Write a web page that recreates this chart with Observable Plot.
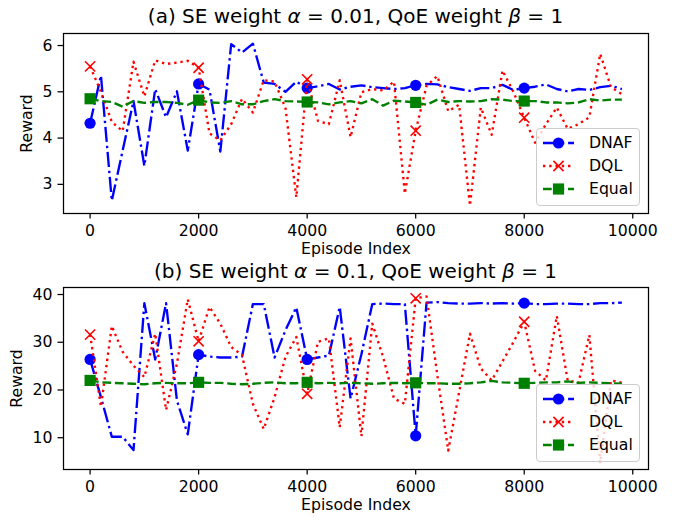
<!DOCTYPE html>
<html>
<head>
<meta charset="utf-8">
<script src="https://cdn.jsdelivr.net/npm/d3@7"></script>
<script src="https://cdn.jsdelivr.net/npm/@observablehq/plot@0.6"></script>
<style>
  html, body { margin: 0; padding: 0; background: #fff; }
  body { font-family: "DejaVu Sans", sans-serif; }
  #wrap { position: relative; width: 677px; height: 520px; overflow: hidden; }
  .panel { position: absolute; left: 0; }
  .title { position: absolute; left: 63px; width: 585px; text-align: center; font-size: 20px;
           line-height: 1; color: #000; white-space: nowrap; }
  .legend { position: absolute; left: 536px; width: 104px; box-sizing: border-box;
            border: 1px solid #cccccc; border-radius: 4px; background: rgba(255,255,255,0.8);
            padding: 2px 0 4px 0; font-size: 15.7px; color: #000; }
  .legend .row { height: 23.3px; display: flex; align-items: center; }
  .legend svg { margin-left: 6px; flex: none; }
  .legend span { margin-left: 15px; line-height: 1; }
</style>
</head>
<body>
<div id="wrap"></div>
<script>
// ---------------- data ----------------
const episodes = [0,200,400,600,800,1000,1200,1400,1600,1800,
  2000,2200,2400,2600,2800,3000,3200,3400,3600,3800,
  4000,4200,4400,4600,4800,5000,5200,5400,5600,5800,
  6000,6200,6400,6600,6800,7000,7200,7400,7600,7800,
  8000,8200,8400,8600,8800,9000,9200,9400,9600,9800];

const seriesNames = ["DNAF", "DQL", "Equal"];
const markerEpisodes = [0, 2000, 4000, 6000, 8000];

// (a) alpha = 0.01
const aDNAF = [4.32,5.35,2.65,3.73,4.80,3.40,5.06,4.45,5.01,3.73,
  5.17,5.05,3.71,6.03,5.85,6.04,5.20,5.17,5.00,5.22,
  5.08,5.12,5.17,5.05,5.11,5.14,5.10,5.08,5.06,5.08,
  5.14,5.17,5.16,5.10,5.06,5.02,5.08,5.08,5.15,5.04,
  5.08,5.11,5.16,5.06,5.01,5.06,5.04,5.10,5.13,5.06];
const aDQL = [5.55,5.00,4.35,4.15,5.65,4.90,5.68,5.60,5.63,5.67,
  5.52,4.10,3.95,4.30,4.85,4.55,5.25,5.22,4.65,2.72,
  5.27,4.37,4.30,5.25,4.02,4.99,5.06,5.03,5.22,2.80,
  4.16,5.13,5.34,4.58,4.72,2.54,4.66,4.07,5.46,5.00,
  4.44,3.90,4.30,4.66,4.20,4.30,4.45,5.82,5.10,4.95];
const aEqual = [4.85,4.80,4.78,4.68,4.80,4.76,4.78,4.78,4.76,4.72,
  4.82,4.77,4.76,4.80,4.73,4.73,4.80,4.84,4.80,4.79,
  4.78,4.77,4.73,4.77,4.80,4.75,4.84,4.70,4.81,4.79,
  4.77,4.72,4.83,4.78,4.80,4.79,4.80,4.84,4.83,4.80,
  4.80,4.80,4.77,4.77,4.75,4.77,4.84,4.81,4.83,4.83];

// (b) alpha = 0.1
const bDNAF = [26.4,18.5,10.2,10.2,7.4,38.2,26.4,38.2,17.8,10.7,
  27.4,27.0,26.8,26.8,27.0,38.0,38.0,26.8,32.5,37.3,
  26.4,26.8,27.2,37.4,18.2,27.5,38.0,38.1,38.0,38.0,
  10.4,38.3,38.4,38.2,38.1,38.1,38.2,38.1,38.2,38.1,
  38.2,38.0,38.0,38.1,38.1,38.0,38.0,38.2,38.2,38.3];
const bDQL = [31.6,16.5,33.4,28.0,25.1,22.7,31.8,15.8,25.5,39.0,
  30.2,37.4,33.9,29.0,27.3,17.1,11.8,18.5,26.9,31.1,
  19.2,30.1,30.8,12.2,30.8,10.3,33.9,26.9,18.2,17.1,
  39.2,39.6,23.0,7.3,19.5,31.8,24.5,22.0,26.0,30.0,
  34.3,24.0,22.0,35.5,22.0,21.5,31.5,4.8,22.0,21.5];
const bEqual = [22.0,21.6,21.5,21.4,21.3,21.2,21.4,21.5,21.4,21.4,
  21.6,21.5,21.5,21.3,21.2,21.3,21.5,21.6,21.4,21.4,
  21.6,21.4,21.5,21.4,21.5,21.4,21.3,21.4,21.5,21.4,
  21.5,21.4,21.4,21.3,21.3,21.4,21.6,21.9,21.6,21.5,
  21.4,21.5,21.6,21.6,21.8,21.5,21.6,21.5,21.4,21.3];

const xTicks = [0, 2000, 4000, 6000, 8000, 10000];
const yTicksA = [3, 4, 5, 6];
const yTicksB = [10, 20, 30, 40];

// ---------------- styles ----------------
const LW = 2.36;
const styles = {
  DNAF:  {color: "#0000ff", dash: "15.1 3.8 2.4 3.8", symbol: "circle", r: 5.6, filled: true},
  DQL:   {color: "#ff0000", dash: "2.36 3.9",         symbol: "times",  r: 4.7, filled: false},
  Equal: {color: "#008000", dash: "8.7 3.8",          symbol: "square", r: 6.3, filled: true}
};

function buildRows(lists) {
  const rows = [];
  seriesNames.forEach((s, i) => lists[i].forEach((v, j) => rows.push({series: s, ep: episodes[j], v})));
  return rows;
}

function makePlot({lists, yDomain, yTicks, height, marginTop, marginBottom, yLabelOffset}) {
  const rows = buildRows(lists);
  const marks = [];
  for (const s of seriesNames) {
    const st = styles[s];
    const data = rows.filter(d => d.series === s);
    marks.push(Plot.line(data, {x: "ep", y: "v", stroke: st.color, strokeWidth: LW,
      strokeDasharray: st.dash, strokeLinejoin: "round", strokeLinecap: "butt"}));
    const mdata = data.filter(d => markerEpisodes.includes(d.ep));
    if (st.filled) {
      marks.push(Plot.dot(mdata, {x: "ep", y: "v", symbol: st.symbol, r: st.r, fill: st.color, stroke: "none"}));
    } else {
      marks.push(Plot.dot(mdata, {x: "ep", y: "v", symbol: st.symbol, r: st.r, stroke: st.color, strokeWidth: 1.6, fill: "none"}));
    }
  }
  marks.push(Plot.frame({stroke: "black", strokeWidth: 1.25}));
  marks.push(Plot.axisX(xTicks, {tickSize: 5.5, tickPadding: 5.5, tickFormat: "d", strokeWidth: 1.25,
    label: "Episode Index", labelAnchor: "center", labelOffset: 40, labelArrow: "none"}));
  marks.push(Plot.axisY(yTicks, {tickSize: 5.5, tickPadding: 5.5, tickFormat: "d", strokeWidth: 1.25,
    label: "Reward", labelAnchor: "center", labelOffset: yLabelOffset, labelArrow: "none"}));
  return Plot.plot({
    width: 677, height, marginLeft: 63, marginRight: 29, marginTop, marginBottom,
    x: {domain: [-490, 10290]},
    y: {domain: yDomain},
    style: {fontFamily: "DejaVu Sans", fontSize: "15.7px", color: "black", background: "white", overflow: "visible"},
    marks
  });
}

function legendBox(top) {
  const box = document.createElement("div");
  box.className = "legend";
  box.style.top = top + "px";
  for (const s of seriesNames) {
    const st = styles[s];
    const row = document.createElement("div");
    row.className = "row";
    const ns = "http://www.w3.org/2000/svg";
    const svg = document.createElementNS(ns, "svg");
    svg.setAttribute("width", 31); svg.setAttribute("height", 14);
    const line = document.createElementNS(ns, "line");
    line.setAttribute("x1", 0); line.setAttribute("x2", 31);
    line.setAttribute("y1", 7); line.setAttribute("y2", 7);
    line.setAttribute("stroke", st.color); line.setAttribute("stroke-width", LW);
    line.setAttribute("stroke-dasharray", st.dash);
    svg.appendChild(line);
    const sym = {circle: d3.symbolCircle, times: d3.symbolTimes, square: d3.symbolSquare}[st.symbol];
    const p = document.createElementNS(ns, "path");
    p.setAttribute("d", d3.symbol(sym, Math.PI * st.r * st.r)());
    p.setAttribute("transform", "translate(15.5,7)");
    if (st.filled) { p.setAttribute("fill", st.color); }
    else { p.setAttribute("fill", "none"); p.setAttribute("stroke", st.color); p.setAttribute("stroke-width", 1.6); }
    svg.appendChild(p);
    row.appendChild(svg);
    const span = document.createElement("span");
    span.textContent = s;
    row.appendChild(span);
    box.appendChild(row);
  }
  return box;
}

function titleDiv(top, label, a) {
  const t = document.createElement("div");
  t.className = "title";
  t.style.top = top + "px";
  t.innerHTML = `${label} SE weight <i>α</i> = ${a}, QoE weight <i>β</i> = 1`;
  return t;
}

const wrap = document.getElementById("wrap");

const p1 = makePlot({lists: [aDNAF, aDQL, aEqual], yDomain: [2.37, 6.26], yTicks: yTicksA,
  height: 260, marginTop: 33, marginBottom: 47, yLabelOffset: 43});
p1.classList.add("panel"); p1.style.top = "0px";
wrap.appendChild(p1);

const p2 = makePlot({lists: [bDNAF, bDQL, bEqual], yDomain: [3.34, 41.47], yTicks: yTicksB,
  height: 260, marginTop: 27, marginBottom: 51, yLabelOffset: 53});
p2.classList.add("panel"); p2.style.top = "260px";
wrap.appendChild(p2);

wrap.appendChild(titleDiv(6.4, "(a)", "0.01"));
wrap.appendChild(titleDiv(261, "(b)", "0.1"));
wrap.appendChild(legendBox(128));
wrap.appendChild(legendBox(384));
</script>
</body>
</html>
